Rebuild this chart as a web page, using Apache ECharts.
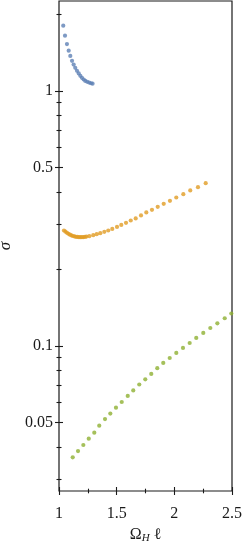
<!DOCTYPE html>
<html><head><meta charset="utf-8">
<script src="https://cdn.jsdelivr.net/npm/echarts@6/dist/echarts.min.js"></script>
<style>html,body{margin:0;padding:0;background:#fff}#c{width:244px;height:545px}</style>
</head><body><div id="c"></div>
<script>
const blueX = [1.037, 1.052, 1.069, 1.084, 1.098, 1.113, 1.127, 1.141, 1.156, 1.171, 1.185, 1.199, 1.214, 1.228, 1.245, 1.262, 1.278, 1.291];
const blueY = [1.80, 1.646, 1.525, 1.437, 1.370, 1.311, 1.267, 1.231, 1.198, 1.170, 1.145, 1.125, 1.108, 1.094, 1.085, 1.077, 1.071, 1.067];
const orangeX = [1.043, 1.056, 1.069, 1.082, 1.095, 1.108, 1.121, 1.134, 1.147, 1.160, 1.173, 1.186, 1.199, 1.212, 1.225, 1.238,
  1.263, 1.297, 1.327, 1.358, 1.393, 1.427, 1.462, 1.503, 1.540, 1.581, 1.622, 1.665, 1.711, 1.757, 1.806, 1.856, 1.908, 1.962, 2.017, 2.078, 2.138, 2.205, 2.272];
const orangeY = [0.2835, 0.2805, 0.2777, 0.2752, 0.2730, 0.2712, 0.2698, 0.2688, 0.2678, 0.2674, 0.2669, 0.2669, 0.2669, 0.2671, 0.2676, 0.2683,
  0.2693, 0.2717, 0.2742, 0.2767, 0.2800, 0.2835, 0.2876, 0.2929, 0.2982, 0.3037, 0.3103, 0.3160, 0.3247, 0.3336, 0.3415, 0.3509, 0.3605, 0.3704, 0.3819, 0.3935, 0.4069, 0.4192, 0.4346];
const greenX = [1.119, 1.165, 1.211, 1.258, 1.306, 1.349, 1.399, 1.445, 1.494, 1.544, 1.596, 1.644, 1.696, 1.748, 1.800, 1.852, 1.904, 1.960, 2.017, 2.075, 2.133, 2.190, 2.251, 2.312, 2.373, 2.437, 2.494];
const greenY = [0.0366, 0.0387, 0.0409, 0.0433, 0.0457, 0.0487, 0.0517, 0.0543, 0.0573, 0.0603, 0.0637, 0.0669, 0.0706, 0.0740, 0.0777, 0.0818, 0.0858, 0.0897, 0.0939, 0.0982, 0.1027, 0.1075, 0.1125, 0.1176, 0.1227, 0.1284, 0.1340];

const xRange = [1, 2.5];
const yRange = [0.027, 2.25];
const xMajorTicks = [1, 1.5, 2, 2.5];
const xMinorTicks = [1.25, 1.75, 2.25];
const yMajorTicks = [0.05, 0.1, 0.5, 1];
const yMinorTicks = [0.03, 0.04, 0.06, 0.07, 0.08, 0.09, 0.2, 0.3, 0.4, 0.6, 0.7, 0.8, 0.9, 2];
const seriesColors = ['#5e81b5', '#e19c24', '#8fb032'];

const FONT = 'Liberation Serif';
const INK = '#1a1a1a';
const zip = (xs, ys) => xs.map((x, i) => [x, ys[i]]);

function xAx(ticks, inside, len, withLabels) {
  return {
    type: 'value', min: xRange[0], max: xRange[1], position: 'bottom',
    axisLine: { show: false, onZero: false }, splitLine: { show: false },
    axisTick: { show: true, inside: inside, length: len, customValues: ticks, lineStyle: { color: INK, width: 1.1 } },
    axisLabel: { show: withLabels, customValues: ticks, margin: 15, color: INK, fontFamily: FONT, fontSize: 16 }
  };
}
const lg = v => Math.log10(v);
function yAx(ticks, inside, len, withLabels) {
  const vals = ticks.map(lg);
  return {
    type: 'value', min: lg(yRange[0]), max: lg(yRange[1]), position: 'left',
    axisLine: { show: false, onZero: false }, splitLine: { show: false },
    axisTick: { show: true, inside: inside, length: len, customValues: vals, lineStyle: { color: INK, width: 1.1 } },
    axisLabel: { show: withLabels, customValues: vals, margin: 6, color: INK, fontFamily: FONT, fontSize: 16,
      formatter: v => String(+Math.pow(10, v).toPrecision(4)) }
  };
}

const xAxes = [
  Object.assign(xAx(xMajorTicks, false, 4, true), {
    name: '{a|Ω}{sub|H}{a| ℓ}', nameLocation: 'middle', nameGap: 32,
    nameTextStyle: { rich: {
      a: { fontFamily: FONT, fontSize: 16, lineHeight: 18, color: INK },
      sub: { fontFamily: FONT, fontSize: 11, lineHeight: 11, color: INK, fontStyle: 'italic', verticalAlign: 'bottom' }
    } }
  }),
  xAx(xMajorTicks, true, 4, false),
  xAx(xMinorTicks, false, 2.3, false),
  xAx(xMinorTicks, true, 2.3, false)
];

const yAxes = [
  { type: 'log', logBase: 10, min: yRange[0], max: yRange[1], position: 'left',
    axisLine: { show: false, onZero: false }, axisTick: { show: false }, axisLabel: { show: false }, splitLine: { show: false }, minorTick: { show: false } },
  Object.assign(yAx(yMajorTicks, false, 4, true), {
    name: 'σ', nameLocation: 'middle', nameGap: 38, nameRotate: 90,
    nameTextStyle: { fontFamily: FONT, fontSize: 17, color: INK, fontStyle: 'italic' }
  }),
  yAx(yMajorTicks, true, 4, false),
  yAx(yMinorTicks, false, 2.5, false),
  yAx(yMinorTicks, true, 2.5, false)
];

const chart = echarts.init(document.getElementById('c'), null, { renderer: 'canvas' });
chart.setOption({
  animation: false,
  backgroundColor: '#fff',
  grid: { left: 59, right: 12, top: 1, bottom: 54, show: true, borderColor: INK, borderWidth: 1.2, outerBoundsMode: 'none' },
  xAxis: xAxes,
  yAxis: yAxes,
  series: [
    { type: 'scatter', data: zip(blueX, blueY), symbolSize: 4.2, itemStyle: { color: seriesColors[0] }, xAxisIndex: 0, yAxisIndex: 0, silent: true },
    { type: 'scatter', data: zip(orangeX, orangeY), symbolSize: 4.2, itemStyle: { color: seriesColors[1] }, xAxisIndex: 0, yAxisIndex: 0, silent: true },
    { type: 'scatter', data: zip(greenX, greenY), symbolSize: 4.2, itemStyle: { color: seriesColors[2] }, xAxisIndex: 0, yAxisIndex: 0, silent: true }
  ]
});
</script></body></html>
